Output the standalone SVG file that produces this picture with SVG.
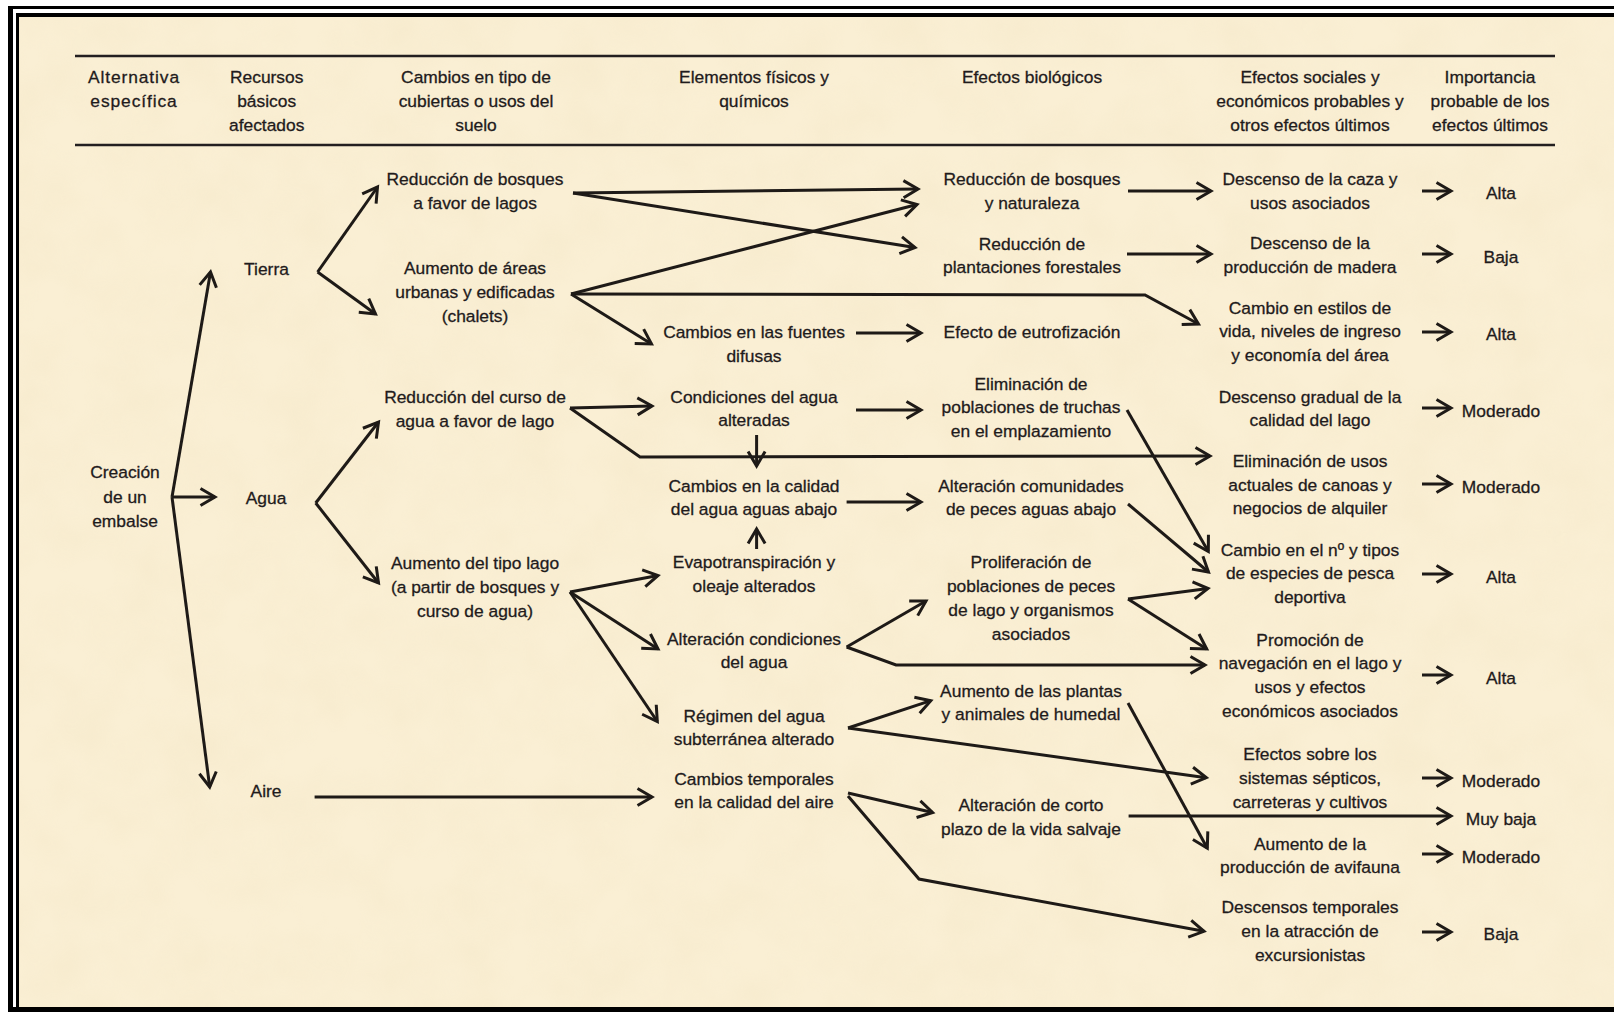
<svg xmlns="http://www.w3.org/2000/svg" width="1614" height="1012" viewBox="0 0 1614 1012">
<style>
.t{font-family:"Liberation Sans",Arial,sans-serif;font-size:17.4px;fill:#1f1b1c;stroke:#1f1b1c;stroke-width:0.3px;text-anchor:middle}
.wide{letter-spacing:0.9px}
.c{fill:none;stroke:#1e1a17;stroke-width:3;stroke-linejoin:miter;stroke-linecap:butt;marker-end:url(#ah)}
.rule{stroke:#231f20;stroke-width:2.5}
.frame{stroke:#000;fill:none}
</style>
<defs>
<marker id="ah" markerUnits="userSpaceOnUse" orient="auto" overflow="visible" markerWidth="1" markerHeight="1" refX="0" refY="0">
<path d="M-14.5,-8.5 L0,0 L-14.5,8.5" fill="none" stroke="#1e1a17" stroke-width="3" stroke-linejoin="miter"/>
</marker>
<filter id="tex" x="0" y="0" width="100%" height="100%">
<feTurbulence type="fractalNoise" baseFrequency="0.018" numOctaves="3" seed="7"/>
<feColorMatrix type="matrix" values="0 0 0 0 0.84  0 0 0 0 0.72  0 0 0 0 0.48  0.55 0 0 0 -0.18"/>
</filter>
</defs>
<rect x="0" y="0" width="1614" height="1012" fill="#ffffff"/>
<rect x="19" y="17" width="1595" height="990" fill="#FAEFD4"/>
<rect x="19" y="17" width="1595" height="990" filter="url(#tex)" opacity="0.6"/>
<g id="frame" class="frame">
<line x1="10.5" y1="6" x2="10.5" y2="1012" stroke-width="5"/>
<line x1="8" y1="7.5" x2="1614" y2="7.5" stroke-width="3"/>
<line x1="17.5" y1="13" x2="17.5" y2="1012" stroke-width="3"/>
<line x1="16" y1="15" x2="1614" y2="15" stroke-width="4"/>
<line x1="8" y1="1009.5" x2="1614" y2="1009.5" stroke-width="5"/>
</g>
<g id="header">
<line class="rule" x1="75" y1="56" x2="1555" y2="56"/>
<line class="rule" x1="75" y1="145" x2="1555" y2="145"/>
<text class="t wide"><tspan x="134" y="83">Alternativa</tspan><tspan x="134" y="107">específica</tspan></text>
<text class="t"><tspan x="266.7" y="83">Recursos</tspan><tspan x="266.7" y="107">básicos</tspan><tspan x="266.7" y="131">afectados</tspan></text>
<text class="t"><tspan x="476" y="83">Cambios en tipo de</tspan><tspan x="476" y="107">cubiertas o usos del</tspan><tspan x="476" y="131">suelo</tspan></text>
<text class="t"><tspan x="754" y="83">Elementos físicos y</tspan><tspan x="754" y="107">químicos</tspan></text>
<text class="t"><tspan x="1032" y="83">Efectos biológicos</tspan></text>
<text class="t"><tspan x="1310" y="83">Efectos sociales y</tspan><tspan x="1310" y="107">económicos probables y</tspan><tspan x="1310" y="131">otros efectos últimos</tspan></text>
<text class="t"><tspan x="1490" y="83">Importancia</tspan><tspan x="1490" y="107">probable de los</tspan><tspan x="1490" y="131">efectos últimos</tspan></text>
</g>
<g id="connectors">
<line class="c" x1="172" y1="497" x2="210.5" y2="272"/>
<line class="c" x1="172" y1="497" x2="215" y2="497"/>
<line class="c" x1="172" y1="497" x2="209.7" y2="787"/>
<line class="c" x1="317.6" y1="272" x2="377.5" y2="187"/>
<line class="c" x1="317.6" y1="272" x2="375.5" y2="314"/>
<line class="c" x1="315.7" y1="503" x2="378.5" y2="422"/>
<line class="c" x1="315.7" y1="503" x2="378.5" y2="583"/>
<line class="c" x1="314.6" y1="797" x2="652" y2="797"/>
<line class="c" x1="573" y1="193" x2="918" y2="189"/>
<line class="c" x1="573" y1="193" x2="915" y2="247.5"/>
<line class="c" x1="571" y1="294" x2="917" y2="204.5"/>
<polyline class="c" points="571,294 1145,295 1198.5,324"/>
<line class="c" x1="571" y1="294" x2="651.5" y2="344"/>
<line class="c" x1="856" y1="333" x2="921" y2="333"/>
<line class="c" x1="1128" y1="191" x2="1211" y2="191"/>
<line class="c" x1="1127" y1="254" x2="1211" y2="254"/>
<line class="c" x1="570" y1="408" x2="652" y2="406"/>
<polyline class="c" points="570,408 640,457 1210,456"/>
<line class="c" x1="856" y1="410" x2="921" y2="410"/>
<line class="c" x1="756.6" y1="435" x2="756.6" y2="466"/>
<line class="c" x1="846.6" y1="502" x2="921" y2="502"/>
<line class="c" x1="756.6" y1="549" x2="756.6" y2="529"/>
<line class="c" x1="570" y1="592" x2="658" y2="575.5"/>
<line class="c" x1="570" y1="592" x2="658" y2="649"/>
<line class="c" x1="570" y1="592" x2="657.3" y2="721.5"/>
<line class="c" x1="846.6" y1="647" x2="926" y2="601"/>
<polyline class="c" points="846.6,647 896,665 1205,665"/>
<line class="c" x1="1127" y1="410" x2="1208.3" y2="551.5"/>
<line class="c" x1="1128" y1="504" x2="1208.5" y2="572"/>
<line class="c" x1="1128" y1="599" x2="1208" y2="588.5"/>
<line class="c" x1="1128" y1="599" x2="1206.7" y2="649"/>
<line class="c" x1="848" y1="728" x2="930.8" y2="700.7"/>
<line class="c" x1="848" y1="728" x2="1206.3" y2="777.7"/>
<line class="c" x1="848" y1="793" x2="932.6" y2="812.5"/>
<polyline class="c" points="848,796 919,879 1204,931.3"/>
<line class="c" x1="1128.6" y1="816" x2="1451" y2="816"/>
<line class="c" x1="1128" y1="703" x2="1207.3" y2="848.2"/>
<line class="c" x1="1422" y1="191" x2="1451" y2="191"/>
<line class="c" x1="1422" y1="254" x2="1451" y2="254"/>
<line class="c" x1="1422" y1="332" x2="1451" y2="332"/>
<line class="c" x1="1422" y1="408" x2="1451" y2="408"/>
<line class="c" x1="1422" y1="484" x2="1451" y2="484"/>
<line class="c" x1="1422" y1="574" x2="1451" y2="574"/>
<line class="c" x1="1422" y1="675" x2="1451" y2="675"/>
<line class="c" x1="1422" y1="778" x2="1451" y2="778"/>
<line class="c" x1="1422" y1="854" x2="1451" y2="854"/>
<line class="c" x1="1422" y1="932" x2="1451" y2="932"/>
</g>
<g id="n_creacion"><text class="t"><tspan x="125" y="478">Creación</tspan><tspan x="125" y="503">de un</tspan><tspan x="125" y="527">embalse</tspan></text></g>
<g id="n_tierra"><text class="t" x="266.5" y="275">Tierra</text></g>
<g id="n_agua"><text class="t" x="266" y="504">Agua</text></g>
<g id="n_aire"><text class="t" x="266" y="797">Aire</text></g>
<g id="n_red_bosques"><text class="t"><tspan x="475" y="185">Reducción de bosques</tspan><tspan x="475" y="209">a favor de lagos</tspan></text></g>
<g id="n_aum_areas"><text class="t"><tspan x="475" y="274">Aumento de áreas</tspan><tspan x="475" y="298">urbanas y edificadas</tspan><tspan x="475" y="322">(chalets)</tspan></text></g>
<g id="n_red_curso"><text class="t"><tspan x="475" y="403">Reducción del curso de</tspan><tspan x="475" y="427">agua a favor de lago</tspan></text></g>
<g id="n_aum_lago"><text class="t"><tspan x="475" y="569">Aumento del tipo lago</tspan><tspan x="475" y="593">(a partir de bosques y</tspan><tspan x="475" y="617">curso de agua)</tspan></text></g>
<g id="n_fuentes"><text class="t"><tspan x="754" y="338">Cambios en las fuentes</tspan><tspan x="754" y="362">difusas</tspan></text></g>
<g id="n_condiciones"><text class="t"><tspan x="754" y="403">Condiciones del agua</tspan><tspan x="754" y="426">alteradas</tspan></text></g>
<g id="n_calidad"><text class="t"><tspan x="754" y="492">Cambios en la calidad</tspan><tspan x="754" y="515">del agua aguas abajo</tspan></text></g>
<g id="n_evapo"><text class="t"><tspan x="754" y="568">Evapotranspiración y</tspan><tspan x="754" y="592">oleaje alterados</tspan></text></g>
<g id="n_alt_cond"><text class="t"><tspan x="754" y="645">Alteración condiciones</tspan><tspan x="754" y="668">del agua</tspan></text></g>
<g id="n_regimen"><text class="t"><tspan x="754" y="722">Régimen del agua</tspan><tspan x="754" y="745">subterránea alterado</tspan></text></g>
<g id="n_temporales"><text class="t"><tspan x="754" y="785">Cambios temporales</tspan><tspan x="754" y="808">en la calidad del aire</tspan></text></g>
<g id="b_bosques"><text class="t"><tspan x="1032" y="185">Reducción de bosques</tspan><tspan x="1032" y="209">y naturaleza</tspan></text></g>
<g id="b_plantaciones"><text class="t"><tspan x="1032" y="250">Reducción de</tspan><tspan x="1032" y="273">plantaciones forestales</tspan></text></g>
<g id="b_eutro"><text class="t" x="1032" y="338">Efecto de eutrofización</text></g>
<g id="b_truchas"><text class="t"><tspan x="1031" y="390">Eliminación de</tspan><tspan x="1031" y="413">poblaciones de truchas</tspan><tspan x="1031" y="437">en el emplazamiento</tspan></text></g>
<g id="b_comunidades"><text class="t"><tspan x="1031" y="492">Alteración comunidades</tspan><tspan x="1031" y="515">de peces aguas abajo</tspan></text></g>
<g id="b_prolif"><text class="t"><tspan x="1031" y="568">Proliferación de</tspan><tspan x="1031" y="592">poblaciones de peces</tspan><tspan x="1031" y="616">de lago y organismos</tspan><tspan x="1031" y="640">asociados</tspan></text></g>
<g id="b_plantas"><text class="t"><tspan x="1031" y="697">Aumento de las plantas</tspan><tspan x="1031" y="720">y animales de humedal</tspan></text></g>
<g id="b_corto"><text class="t"><tspan x="1031" y="811">Alteración de corto</tspan><tspan x="1031" y="835">plazo de la vida salvaje</tspan></text></g>
<g id="s_caza"><text class="t"><tspan x="1310" y="185">Descenso de la caza y</tspan><tspan x="1310" y="209">usos asociados</tspan></text></g>
<g id="s_madera"><text class="t"><tspan x="1310" y="249">Descenso de la</tspan><tspan x="1310" y="273">producción de madera</tspan></text></g>
<g id="s_estilos"><text class="t"><tspan x="1310" y="314">Cambio en estilos de</tspan><tspan x="1310" y="337">vida, niveles de ingreso</tspan><tspan x="1310" y="361">y economía del área</tspan></text></g>
<g id="s_gradual"><text class="t"><tspan x="1310" y="403">Descenso gradual de la</tspan><tspan x="1310" y="426">calidad del lago</tspan></text></g>
<g id="s_canoas"><text class="t"><tspan x="1310" y="467">Eliminación de usos</tspan><tspan x="1310" y="491">actuales de canoas y</tspan><tspan x="1310" y="514">negocios de alquiler</tspan></text></g>
<g id="s_pesca"><text class="t"><tspan x="1310" y="556">Cambio en el nº y tipos</tspan><tspan x="1310" y="579">de especies de pesca</tspan><tspan x="1310" y="603">deportiva</tspan></text></g>
<g id="s_navegacion"><text class="t"><tspan x="1310" y="646">Promoción de</tspan><tspan x="1310" y="669">navegación en el lago y</tspan><tspan x="1310" y="693">usos y efectos</tspan><tspan x="1310" y="717">económicos asociados</tspan></text></g>
<g id="s_septicos"><text class="t"><tspan x="1310" y="760">Efectos sobre los</tspan><tspan x="1310" y="784">sistemas sépticos,</tspan><tspan x="1310" y="808">carreteras y cultivos</tspan></text></g>
<g id="s_avifauna"><text class="t"><tspan x="1310" y="850">Aumento de la</tspan><tspan x="1310" y="873">producción de avifauna</tspan></text></g>
<g id="s_excursion"><text class="t"><tspan x="1310" y="913">Descensos temporales</tspan><tspan x="1310" y="937">en la atracción de</tspan><tspan x="1310" y="961">excursionistas</tspan></text></g>
<g id="i1"><text class="t" x="1501" y="199">Alta</text></g>
<g id="i2"><text class="t" x="1501" y="263">Baja</text></g>
<g id="i3"><text class="t" x="1501" y="340">Alta</text></g>
<g id="i4"><text class="t" x="1501" y="417">Moderado</text></g>
<g id="i5"><text class="t" x="1501" y="493">Moderado</text></g>
<g id="i6"><text class="t" x="1501" y="583">Alta</text></g>
<g id="i7"><text class="t" x="1501" y="684">Alta</text></g>
<g id="i8"><text class="t" x="1501" y="787">Moderado</text></g>
<g id="i9"><text class="t" x="1501" y="825">Muy baja</text></g>
<g id="i10"><text class="t" x="1501" y="863">Moderado</text></g>
<g id="i11"><text class="t" x="1501" y="940">Baja</text></g>
</svg>
